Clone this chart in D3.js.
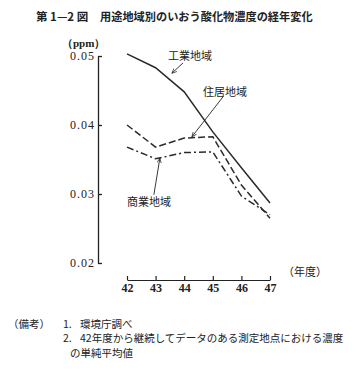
<!DOCTYPE html>
<html>
<head>
<meta charset="utf-8">
<script src="https://cdn.jsdelivr.net/npm/d3@7"></script>
<style>
	body { margin: 0; background: #fff; }
	text { fill: #222; }
</style>
</head>
<body>
<div id="chart"></div>
<script>
var years = [42, 43, 44, 45, 46, 47];
var industrial = [0.0503, 0.0483, 0.0448, 0.0390, 0.0338, 0.0287];
var residential = [0.0400, 0.0368, 0.0381, 0.0383, 0.0313, 0.0265];
var commercial = [0.0368, 0.0351, 0.0360, 0.0361, 0.0297, 0.0270];
var yTicks = [0.02, 0.03, 0.04, 0.05];
var seriesNames = ["工業地域", "住居地域", "商業地域"];
// label position [year, value] and arrow [from, to]
var labelPos = [[44.2, 0.0500], [45.43, 0.0448], [42.77, 0.0288]];
var arrows = [
	[[43.96, 0.0490], [43.57, 0.0475]],
	[[45.36, 0.0441], [44.27, 0.0383]],
	[[42.94, 0.0299], [43.15, 0.0352]]
];

var w = 363, h = 370;
var svg = d3.select("#chart").append("svg").attr("width", w).attr("height", h);

var x = d3.scaleLinear().domain([42, 47]).range([127, 270]);
var y = d3.scaleLinear().domain([0.02, 0.05]).range([263, 56]);

// title
svg.append("text").attr("x", 36).attr("y", 21)
	.style("font-family", "'Noto Sans CJK JP'").style("font-size", "11.5px").style("font-weight", "bold")
	.text("第 1—2 図");
svg.append("text").attr("x", 100).attr("y", 21)
	.style("font-family", "'Noto Sans CJK JP'").style("font-size", "11.2px").style("font-weight", "bold")
	.text("用途地域別のいおう酸化物濃度の経年変化");

// y axis
var yAxis = d3.axisLeft(y).tickValues(yTicks).tickSizeInner(-4).tickSizeOuter(0).tickPadding(3)
	.tickFormat(d3.format(".2f"));
var gy = svg.append("g").attr("transform", "translate(98,0)").call(yAxis);
gy.selectAll("path, line").attr("stroke", "#222").attr("stroke-width", 1.3);
gy.selectAll("text").style("font-family", "'Liberation Serif'").style("font-size", "12px")
	.style("letter-spacing", "1px").attr("fill", "#222");

svg.append("text").attr("x", 62).attr("y", 47)
	.style("font-family", "'Liberation Serif'").style("font-size", "11px").style("font-weight", "bold")
	.text("（ppm）");

// x axis
var xAxis = d3.axisBottom(x).tickValues(years).tickSizeInner(-4).tickSizeOuter(0).tickPadding(3)
	.tickFormat(d3.format("d"));
var gx = svg.append("g").attr("transform", "translate(0,280)").call(xAxis);
gx.selectAll("path, line").attr("stroke", "#222").attr("stroke-width", 1.2);
gx.selectAll("text").style("font-family", "'Liberation Serif'").style("font-size", "12px")
	.style("font-weight", "bold").attr("fill", "#222");

svg.append("text").attr("x", 283).attr("y", 276)
	.style("font-family", "'Noto Sans CJK JP'").style("font-size", "11px")
	.text("（年度）");

// lines
var line = d3.line().x(function(d, i) { return x(years[i]); }).y(function(d) { return y(d); });
var styles = [null, "7,3", "7,3,2,3"];
[industrial, residential, commercial].forEach(function(s, k) {
	svg.append("path").datum(s).attr("d", line)
		.attr("fill", "none").attr("stroke", "#2a2a2a").attr("stroke-width", 1.5)
		.attr("stroke-dasharray", styles[k]);
});

// arrow marker
svg.append("defs").append("marker").attr("id", "ah")
	.attr("viewBox", "0 0 10 10").attr("refX", 9).attr("refY", 5)
	.attr("markerWidth", 6).attr("markerHeight", 6).attr("orient", "auto")
	.append("path").attr("d", "M0,1L9,5L0,9").attr("fill", "none").attr("stroke", "#222").attr("stroke-width", 1.3);

seriesNames.forEach(function(name, k) {
	svg.append("text").attr("x", x(labelPos[k][0])).attr("y", y(labelPos[k][1]))
		.attr("text-anchor", "middle").attr("dy", "0.35em")
		.style("font-family", "'Noto Sans CJK JP'").style("font-size", "11px")
		.text(name);
	svg.append("line")
		.attr("x1", x(arrows[k][0][0])).attr("y1", y(arrows[k][0][1]))
		.attr("x2", x(arrows[k][1][0])).attr("y2", y(arrows[k][1][1]))
		.attr("stroke", "#222").attr("stroke-width", 0.9).attr("marker-end", "url(#ah)");
});

// notes
var notes = svg.append("g").style("font-family", "'Noto Sans CJK JP'").style("font-size", "10.5px");
notes.append("text").attr("x", 8).attr("y", 328).text("（備考）");
notes.append("text").attr("x", 63).attr("y", 328).text("1.");
notes.append("text").attr("x", 80).attr("y", 328).text("環境庁調べ");
notes.append("text").attr("x", 63).attr("y", 342).text("2.");
notes.append("text").attr("x", 80).attr("y", 342).text("42年度から継続してデータのある測定地点における濃度");
notes.append("text").attr("x", 70).attr("y", 357).text("の単純平均値");
</script>
</body>
</html>
